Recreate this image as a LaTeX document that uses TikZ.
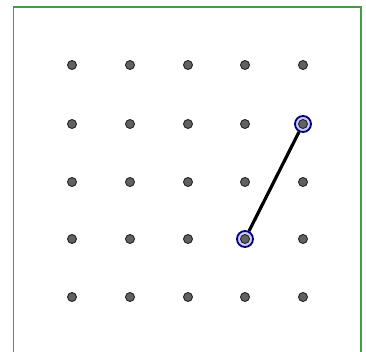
\documentclass[tikz,border=0pt]{standalone}
\begin{document}
\begin{tikzpicture}[x=1pt,y=-1pt,
  gridpt/.style={circle,fill=black!62,draw=black!85,line width=0.9pt,inner sep=0pt,minimum size=9pt},
  selpt/.style={circle,fill=blue!20!white,draw=blue!50!black,line width=1.8pt,inner sep=0pt,minimum size=16pt},
  frameline/.style={draw=green!50!black!75,line width=1.8pt},
  seg/.style={line width=3.2pt,black}]
\useasboundingbox (0,0) rectangle (366,352);
\fill[white] (0,0) rectangle (366,352);
\draw[frameline] (13.5,352) -- (13.5,7) -- (361,7) -- (361,352);
\foreach \i/\x in {1/72,2/130,3/188,4/245,5/303}{
  \foreach \j/\y in {1/65,2/124,3/182,4/239,5/297}{
    \node[gridpt] (p\i\j) at (\x,\y) {};
  }
}
\node[selpt] (s44) at (p44) {};
\node[selpt] (s52) at (p52) {};
\draw[seg] (s44) -- (s52);
\node[gridpt] at (p44) {};
\node[gridpt] at (p52) {};
\end{tikzpicture}
\end{document}
